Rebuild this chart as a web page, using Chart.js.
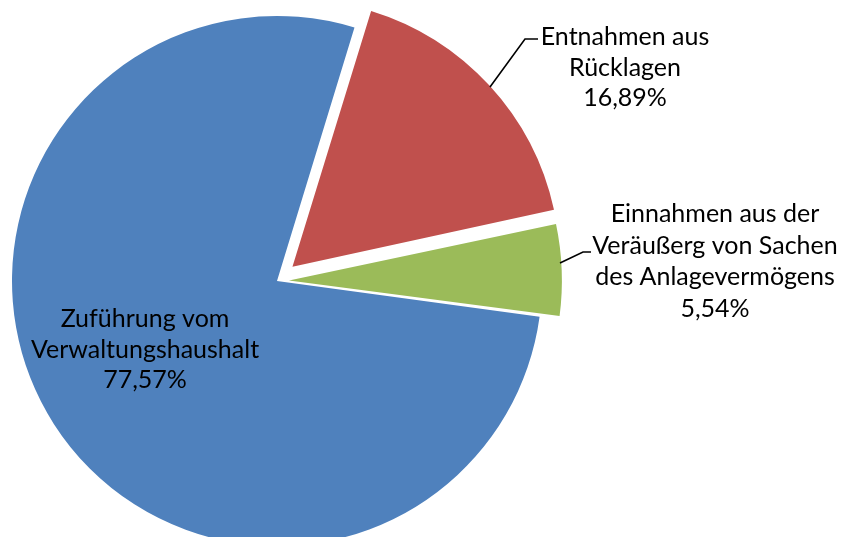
<!DOCTYPE html>
<html>
<head>
<meta charset="utf-8">
<script src="https://cdn.jsdelivr.net/npm/chart.js@4"></script>
<style>
  html, body { margin: 0; padding: 0; background: #fff; }
  #wrap { width: 842px; height: 537px; }
</style>
</head>
<body>
<div id="wrap"><canvas id="pie" width="842" height="537"></canvas></div>
<script>
// slice names (one entry per line of the label) and shares in percent
let categories = [
  ['Entnahmen aus', 'Rücklagen'],
  ['Einnahmen aus der', 'Veräußerg von Sachen', 'des Anlagevermögens'],
  ['Zuführung vom', 'Verwaltungshaushalt']
];
let shares = [16.89, 5.54, 77.57];
let sliceColors = ['#C0504D', '#9BBB59', '#4F81BD'];

function pct(v) {
  return v.toFixed(2).replace('.', ',') + '%';
}

// where the text blocks sit (baseline of first line) and their leader lines
let labelSpots = [
  { x: 625, y: 45, gap: 30.5, leader: [[490, 87], [525, 39], [538, 39]] },
  { x: 715, y: 222, gap: 31.7, leader: [[560, 263], [583, 252], [591, 252]] },
  { x: 145, y: 327, gap: 30.5, leader: null }
];

const labelPlugin = {
  id: 'sliceLabels',
  afterDraw(chart) {
    let ctx = chart.ctx;
    ctx.save();
    ctx.font = '25px Lato';
    ctx.fillStyle = '#000';
    ctx.textAlign = 'center';
    ctx.textBaseline = 'alphabetic';
    categories.forEach((lines, i) => {
      let spot = labelSpots[i];
      let all = lines.concat([pct(shares[i])]);
      all.forEach((t, k) => {
        ctx.fillText(t, spot.x, spot.y + k * spot.gap);
      });
      if (spot.leader) {
        ctx.beginPath();
        ctx.strokeStyle = '#000';
        ctx.lineWidth = 1.6;
        spot.leader.forEach((p, k) => {
          if (k == 0) ctx.moveTo(p[0], p[1]);
          else ctx.lineTo(p[0], p[1]);
        });
        ctx.stroke();
      }
    });
    ctx.restore();
  }
};

// chart.js draws the arc offset at a quarter of the option value
// (and also widens narrow slices a bit, hence the smaller green one)
let chart = new Chart(document.getElementById('pie').getContext('2d'), {
  type: 'pie',
  data: {
    labels: categories.map(c => c.join(' ')),
    datasets: [{
      data: shares,
      backgroundColor: sliceColors,
      borderWidth: 0,
      offset: [84, 48, 0]
    }]
  },
  options: {
    responsive: false,
    animation: false,
    rotation: 17,
    radius: 265,
    layout: { padding: { left: 0, right: 288, top: 25, bottom: 0 } },
    plugins: {
      legend: { display: false },
      tooltip: { enabled: false }
    }
  },
  plugins: [labelPlugin]
});
</script>
</body>
</html>
